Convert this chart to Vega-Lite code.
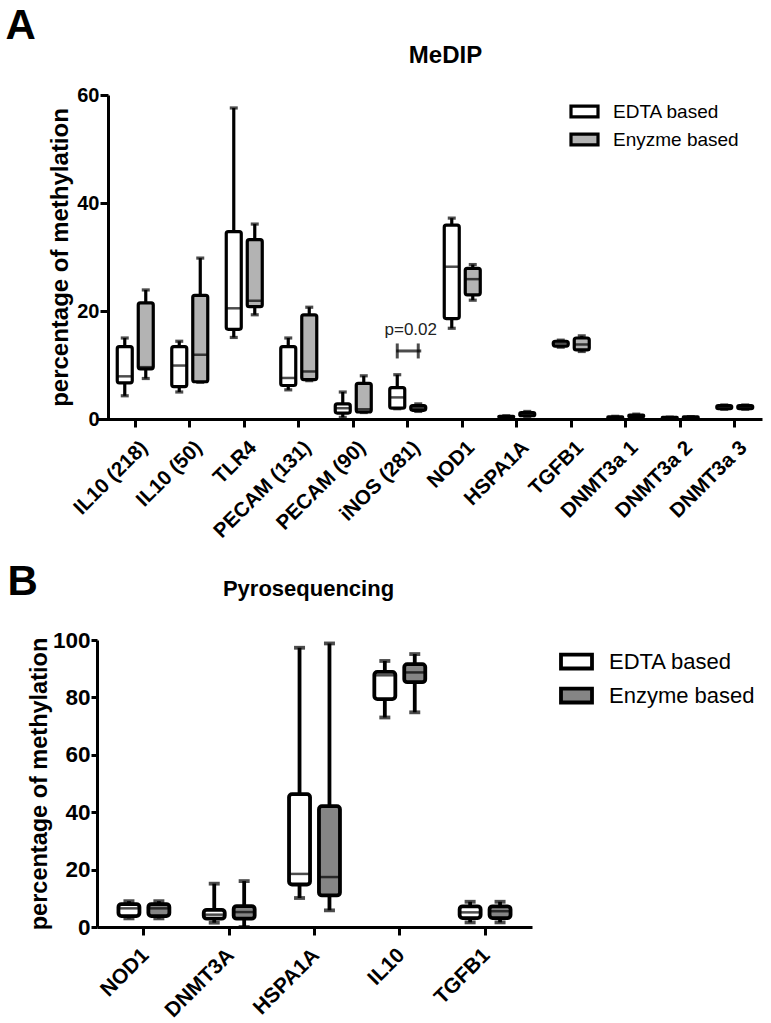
{
  "$schema": "https://vega.github.io/schema/vega-lite/v6.json",
  "background": "white",
  "padding": {"left": 5, "top": 4, "right": 5, "bottom": 5},
  "config": {
    "font": "Liberation Sans",
    "view": {"stroke": null},
    "axis": {"domainColor": "black", "tickColor": "black", "labelColor": "black", "titleColor": "black", "grid": false, "labelFont": "Liberation Sans", "titleFont": "Liberation Sans"},
    "legend": {"labelFont": "Liberation Sans", "labelColor": "black"},
    "concat": {"spacing": 18}
  },
  "datasets": {
    "medip": [
      {"gene": "IL10 (218)", "group": "EDTA based", "low": 4.3, "q1": 6.7, "median": 7.9, "q3": 13.4, "high": 15.0},
      {"gene": "IL10 (218)", "group": "Enyzme based", "low": 7.5, "q1": 9.3, "median": 9.6, "q3": 21.5, "high": 23.9},
      {"gene": "IL10 (50)", "group": "EDTA based", "low": 5.0, "q1": 6.0, "median": 9.9, "q3": 13.4, "high": 14.4},
      {"gene": "IL10 (50)", "group": "Enyzme based", "low": 6.8, "q1": 6.9, "median": 11.9, "q3": 22.9, "high": 29.8},
      {"gene": "TLR4", "group": "EDTA based", "low": 15.1, "q1": 16.6, "median": 20.5, "q3": 34.7, "high": 57.6},
      {"gene": "TLR4", "group": "Enyzme based", "low": 19.3, "q1": 20.8, "median": 21.9, "q3": 33.2, "high": 36.1},
      {"gene": "PECAM (131)", "group": "EDTA based", "low": 5.4, "q1": 6.2, "median": 7.6, "q3": 13.4, "high": 15.0},
      {"gene": "PECAM (131)", "group": "Enyzme based", "low": 7.1, "q1": 7.3, "median": 8.8, "q3": 19.3, "high": 20.7},
      {"gene": "PECAM (90)", "group": "EDTA based", "low": 0.3, "q1": 1.1, "median": 2.0, "q3": 2.8, "high": 5.0},
      {"gene": "PECAM (90)", "group": "Enyzme based", "low": 1.2, "q1": 1.3, "median": 1.8, "q3": 6.6, "high": 8.0},
      {"gene": "iNOS (281)", "group": "EDTA based", "low": 1.9, "q1": 2.0, "median": 4.0, "q3": 5.8, "high": 8.2},
      {"gene": "iNOS (281)", "group": "Enyzme based", "low": 1.4, "q1": 1.6, "median": 2.0, "q3": 2.5, "high": 2.8},
      {"gene": "NOD1", "group": "EDTA based", "low": 16.8, "q1": 18.6, "median": 28.2, "q3": 35.9, "high": 37.2},
      {"gene": "NOD1", "group": "Enyzme based", "low": 22.0, "q1": 23.0, "median": 25.9, "q3": 27.9, "high": 28.6},
      {"gene": "HSPA1A", "group": "EDTA based", "low": 0.2, "q1": 0.3, "median": 0.4, "q3": 0.5, "high": 0.6},
      {"gene": "HSPA1A", "group": "Enyzme based", "low": 0.4, "q1": 0.6, "median": 0.9, "q3": 1.2, "high": 1.4},
      {"gene": "TGFB1", "group": "EDTA based", "low": 13.3, "q1": 13.5, "median": 14.0, "q3": 14.4, "high": 14.6},
      {"gene": "TGFB1", "group": "Enyzme based", "low": 12.5, "q1": 12.8, "median": 13.8, "q3": 15.0, "high": 15.4},
      {"gene": "DNMT3a 1", "group": "EDTA based", "low": 0.1, "q1": 0.2, "median": 0.3, "q3": 0.4, "high": 0.5},
      {"gene": "DNMT3a 1", "group": "Enyzme based", "low": 0.3, "q1": 0.4, "median": 0.6, "q3": 0.7, "high": 0.9},
      {"gene": "DNMT3a 2", "group": "EDTA based", "low": 0.1, "q1": 0.15, "median": 0.2, "q3": 0.3, "high": 0.35},
      {"gene": "DNMT3a 2", "group": "Enyzme based", "low": 0.15, "q1": 0.2, "median": 0.3, "q3": 0.4, "high": 0.45},
      {"gene": "DNMT3a 3", "group": "EDTA based", "low": 1.8, "q1": 1.9, "median": 2.2, "q3": 2.5, "high": 2.6},
      {"gene": "DNMT3a 3", "group": "Enyzme based", "low": 1.8, "q1": 1.9, "median": 2.2, "q3": 2.5, "high": 2.6}
    ],
    "ptext": [
      {"gene": "iNOS (281)", "ty": 15.6, "yb": 12.6, "label": "p=0.02"}
    ],
    "pcaps": [
      {"gene": "iNOS (281)", "group": "EDTA based", "yb": 12.6},
      {"gene": "iNOS (281)", "group": "Enyzme based", "yb": 12.6}
    ],
    "pyro": [
      {"gene": "NOD1", "group": "EDTA based", "low": 3.0, "q1": 3.8, "median": 6.5, "q3": 8.0, "high": 9.0},
      {"gene": "NOD1", "group": "Enzyme based", "low": 3.0, "q1": 3.8, "median": 6.5, "q3": 8.0, "high": 9.0},
      {"gene": "DNMT3A", "group": "EDTA based", "low": 1.5, "q1": 2.9, "median": 4.3, "q3": 6.0, "high": 15.1},
      {"gene": "DNMT3A", "group": "Enzyme based", "low": 0.0, "q1": 2.9, "median": 5.2, "q3": 7.3, "high": 16.0},
      {"gene": "HSPA1A", "group": "EDTA based", "low": 10.1, "q1": 14.8, "median": 18.5, "q3": 46.3, "high": 97.3},
      {"gene": "HSPA1A", "group": "Enzyme based", "low": 5.8, "q1": 11.0, "median": 17.4, "q3": 42.1, "high": 98.8},
      {"gene": "IL10", "group": "EDTA based", "low": 73.0, "q1": 79.4, "median": 87.7, "q3": 88.9, "high": 92.7},
      {"gene": "IL10", "group": "Enzyme based", "low": 74.8, "q1": 85.3, "median": 88.7, "q3": 91.6, "high": 95.1},
      {"gene": "TGFB1", "group": "EDTA based", "low": 1.6, "q1": 3.1, "median": 5.1, "q3": 7.2, "high": 8.8},
      {"gene": "TGFB1", "group": "Enzyme based", "low": 1.6, "q1": 3.1, "median": 5.5, "q3": 7.2, "high": 8.8}
    ]
  },
  "resolve": {
    "scale": {"x": "independent", "y": "independent", "xOffset": "independent", "fill": "independent"},
    "legend": {"fill": "independent"}
  },
  "vconcat": [
    {
      "width": 665,
      "height": 324,
      "data": {"name": "medip"},
      "resolve": {"axis": {"x": "independent"}},
      "layer": [
        {
          "mark": {"type": "rule", "stroke": "black", "strokeWidth": 3.2},
          "encoding": {
            "x": {"field": "gene", "type": "nominal",
              "scale": {"domain": ["IL10 (218)", "IL10 (50)", "TLR4", "PECAM (131)", "PECAM (90)", "iNOS (281)", "NOD1", "HSPA1A", "TGFB1", "DNMT3a 1", "DNMT3a 2", "DNMT3a 3"], "paddingInner": 0, "paddingOuter": 0.101, "align": 1},
              "axis": {"orient": "bottom", "labelAngle": -45, "labelFontSize": 20.5, "labelFontWeight": "bold", "tickSize": 8, "tickWidth": 3, "domainWidth": 3, "labelPadding": 10, "labelOffset": 2,
                "title": "A", "titleX": -92, "titleY": -381, "titleFontSize": 42, "titleFontWeight": "bold", "titleAlign": "left", "titleBaseline": "alphabetic", "titleAngle": 0}},
            "xOffset": {"field": "group", "type": "nominal", "scale": {"domain": ["EDTA based", "Enyzme based"], "paddingInner": 0, "paddingOuter": 0.2976}},
            "y": {"field": "low", "type": "quantitative", "title": "percentage of methylation",
              "scale": {"domain": [0, 60]},
              "axis": {"values": [0, 20, 40, 60], "offset": -11, "labelFontSize": 20, "labelFontWeight": "bold", "tickSize": 8, "tickWidth": 3, "domainWidth": 3, "labelPadding": 1, "titleFontSize": 24, "titleFontWeight": "bold", "titlePadding": 4}},
            "y2": {"field": "high"}
          }
        },
        {
          "mark": {"type": "tick", "color": "black", "size": 8, "thickness": 3.2, "orient": "horizontal"},
          "encoding": {
            "x": {"field": "gene", "type": "nominal", "axis": null},
            "xOffset": {"field": "group", "type": "nominal"},
            "y": {"field": "low", "type": "quantitative", "title": "percentage of methylation"}
          }
        },
        {
          "mark": {"type": "tick", "color": "black", "size": 8, "thickness": 3.2, "orient": "horizontal"},
          "encoding": {
            "x": {"field": "gene", "type": "nominal", "axis": null},
            "xOffset": {"field": "group", "type": "nominal"},
            "y": {"field": "high", "type": "quantitative", "title": "percentage of methylation"}
          }
        },
        {
          "mark": {"type": "bar", "stroke": "black", "strokeWidth": 3.2, "width": 15, "cornerRadius": 2},
          "encoding": {
            "x": {"field": "gene", "type": "nominal",
              "axis": {"orient": "top", "labels": false, "ticks": false, "domain": false, "title": "MeDIP", "titleX": 348, "titleY": -33, "titleFontSize": 24, "titleFontWeight": "bold", "titleBaseline": "alphabetic", "titleAlign": "center", "titleAngle": 0}},
            "xOffset": {"field": "group", "type": "nominal"},
            "y": {"field": "q1", "type": "quantitative", "title": "percentage of methylation"},
            "y2": {"field": "q3"},
            "fill": {"field": "group", "type": "nominal",
              "scale": {"domain": ["EDTA based", "Enyzme based"], "range": ["#ffffff", "#b3b3b3"]},
              "legend": {"title": null, "orient": "none", "legendX": 472, "legendY": 1, "padding": 0,
                "symbolType": "M-1,-0.4H1V0.4H-1Z", "symbolSize": 729, "symbolStrokeColor": "black", "symbolStrokeWidth": 3.2, "symbolOpacity": 1,
                "labelFontSize": 19, "labelOffset": 13, "rowPadding": 0}}
          }
        },
        {
          "mark": {"type": "tick", "color": "black", "size": 15, "thickness": 2.5, "orient": "horizontal"},
          "encoding": {
            "x": {"field": "gene", "type": "nominal", "axis": null},
            "xOffset": {"field": "group", "type": "nominal"},
            "y": {"field": "median", "type": "quantitative", "title": "percentage of methylation"}
          }
        },
        {
          "data": {"name": "ptext"},
          "mark": {"type": "text", "fontSize": 17, "color": "#222222", "baseline": "alphabetic", "align": "center", "dx": 3},
          "encoding": {
            "x": {"field": "gene", "type": "nominal", "axis": null},
            "y": {"field": "ty", "type": "quantitative", "title": "percentage of methylation"},
            "text": {"field": "label"}
          }
        },
        {
          "data": {"name": "ptext"},
          "mark": {"type": "tick", "color": "black", "size": 25, "thickness": 3, "orient": "horizontal", "xOffset": 1},
          "encoding": {
            "x": {"field": "gene", "type": "nominal", "axis": null},
            "y": {"field": "yb", "type": "quantitative", "title": "percentage of methylation"}
          }
        },
        {
          "data": {"name": "pcaps"},
          "mark": {"type": "tick", "color": "black", "size": 15, "thickness": 3, "orient": "vertical"},
          "encoding": {
            "x": {"field": "gene", "type": "nominal", "axis": null},
            "xOffset": {"field": "group", "type": "nominal"},
            "y": {"field": "yb", "type": "quantitative", "title": "percentage of methylation"}
          }
        }
      ]
    },
    {
      "width": 435,
      "height": 287,
      "data": {"name": "pyro"},
      "resolve": {"axis": {"x": "independent"}},
      "layer": [
        {
          "mark": {"type": "rule", "stroke": "black", "strokeWidth": 3.8},
          "encoding": {
            "x": {"field": "gene", "type": "nominal",
              "scale": {"domain": ["NOD1", "DNMT3A", "HSPA1A", "IL10", "TGFB1"], "paddingInner": 0, "paddingOuter": 0.05},
              "axis": {"orient": "bottom", "labelAngle": -45, "labelFontSize": 21, "labelFontWeight": "bold", "tickSize": 8, "tickWidth": 3, "domainWidth": 3, "labelPadding": 9, "labelOffset": -6,
                "title": "B", "titleX": -90, "titleY": -333, "titleFontSize": 42, "titleFontWeight": "bold", "titleAlign": "left", "titleBaseline": "alphabetic", "titleAngle": 0}},
            "xOffset": {"field": "group", "type": "nominal", "scale": {"domain": ["EDTA based", "Enzyme based"], "paddingInner": 0, "paddingOuter": 0.425}},
            "y": {"field": "low", "type": "quantitative", "title": "percentage of methylation",
              "scale": {"domain": [0, 100]},
              "axis": {"values": [0, 20, 40, 60, 80, 100], "labelFontSize": 22.5, "labelFontWeight": "bold", "tickSize": 6, "tickWidth": 3, "domainWidth": 3, "labelPadding": 1, "titleFontSize": 23.5, "titleFontWeight": "bold", "titlePadding": 1}},
            "y2": {"field": "high"}
          }
        },
        {
          "mark": {"type": "tick", "color": "black", "size": 11, "thickness": 3.8, "orient": "horizontal"},
          "encoding": {
            "x": {"field": "gene", "type": "nominal", "axis": null},
            "xOffset": {"field": "group", "type": "nominal"},
            "y": {"field": "low", "type": "quantitative", "title": "percentage of methylation"}
          }
        },
        {
          "mark": {"type": "tick", "color": "black", "size": 11, "thickness": 3.8, "orient": "horizontal"},
          "encoding": {
            "x": {"field": "gene", "type": "nominal", "axis": null},
            "xOffset": {"field": "group", "type": "nominal"},
            "y": {"field": "high", "type": "quantitative", "title": "percentage of methylation"}
          }
        },
        {
          "mark": {"type": "bar", "stroke": "black", "strokeWidth": 3.8, "width": 21, "cornerRadius": 3},
          "encoding": {
            "x": {"field": "gene", "type": "nominal",
              "axis": {"orient": "top", "labels": false, "ticks": false, "domain": false, "title": "Pyrosequencing", "titleX": 211, "titleY": -45, "titleFontSize": 22, "titleFontWeight": "bold", "titleBaseline": "alphabetic", "titleAlign": "center", "titleAngle": 0}},
            "xOffset": {"field": "group", "type": "nominal"},
            "y": {"field": "q1", "type": "quantitative", "title": "percentage of methylation"},
            "y2": {"field": "q3"},
            "fill": {"field": "group", "type": "nominal",
              "scale": {"domain": ["EDTA based", "Enzyme based"], "range": ["#ffffff", "#858585"]},
              "legend": {"title": null, "orient": "none", "legendX": 462, "legendY": 4, "padding": 0,
                "symbolType": "M-1,-0.45H1V0.45H-1Z", "symbolSize": 961, "symbolStrokeColor": "black", "symbolStrokeWidth": 3.8, "symbolOpacity": 1,
                "labelFontSize": 22, "labelOffset": 15, "rowPadding": 1}}
          }
        },
        {
          "mark": {"type": "tick", "color": "black", "size": 21, "thickness": 2.5, "orient": "horizontal"},
          "encoding": {
            "x": {"field": "gene", "type": "nominal", "axis": null},
            "xOffset": {"field": "group", "type": "nominal"},
            "y": {"field": "median", "type": "quantitative", "title": "percentage of methylation"}
          }
        }
      ]
    }
  ]
}
